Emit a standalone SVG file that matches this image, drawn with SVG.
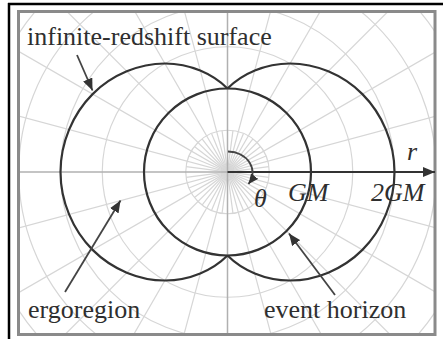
<svg xmlns="http://www.w3.org/2000/svg" width="443" height="339" viewBox="0 0 443 339">
<style>
.grid{stroke:#d6d6d6;stroke-width:1.2;fill:none}
.axis{stroke:#b0b0b0;stroke-width:1.5;fill:none}
.curve{stroke:#333;stroke-width:2.2;fill:none}
.ptr{stroke:#444;stroke-width:1.8;fill:none}
.lbl{font-family:"Liberation Serif","Times New Roman",serif;font-size:26px;fill:#2f2f2f}
.it{font-style:italic}
</style>
<defs>
<clipPath id="inner"><rect x="18.5" y="11.5" width="416.5" height="323"/></clipPath>
<marker id="ah" markerUnits="userSpaceOnUse" markerWidth="14" markerHeight="10" refX="12" refY="5" orient="auto"><path d="M0,0 L12,5 L0,10 Z" fill="#333"/></marker>
<marker id="ahs" markerUnits="userSpaceOnUse" markerWidth="12" markerHeight="9" refX="10" refY="4.5" orient="auto"><path d="M0,0 L10,4.5 L0,9 Z" fill="#333"/></marker>
</defs>
<rect x="0" y="0" width="443" height="339" fill="#fff"/>
<g id="grid" clip-path="url(#inner)">
<g transform="translate(227.5,172)">
<g class="grid">
<circle r="41.75"/><circle r="83.5"/><circle r="125.25"/><circle r="167"/><circle r="208.75"/><circle r="250.5"/><circle r="292.25"/><circle r="334"/>
<line x1="-420" y1="0" x2="420" y2="0" transform="rotate(15)"/>
<line x1="-420" y1="0" x2="420" y2="0" transform="rotate(30)"/>
<line x1="-420" y1="0" x2="420" y2="0" transform="rotate(45)"/>
<line x1="-420" y1="0" x2="420" y2="0" transform="rotate(60)"/>
<line x1="-420" y1="0" x2="420" y2="0" transform="rotate(75)"/>
<line x1="-420" y1="0" x2="420" y2="0" transform="rotate(105)"/>
<line x1="-420" y1="0" x2="420" y2="0" transform="rotate(120)"/>
<line x1="-420" y1="0" x2="420" y2="0" transform="rotate(135)"/>
<line x1="-420" y1="0" x2="420" y2="0" transform="rotate(150)"/>
<line x1="-420" y1="0" x2="420" y2="0" transform="rotate(165)"/>
<line x1="-41.75" y1="0" x2="41.75" y2="0" transform="rotate(7.5)"/>
<line x1="-41.75" y1="0" x2="41.75" y2="0" transform="rotate(22.5)"/>
<line x1="-41.75" y1="0" x2="41.75" y2="0" transform="rotate(37.5)"/>
<line x1="-41.75" y1="0" x2="41.75" y2="0" transform="rotate(52.5)"/>
<line x1="-41.75" y1="0" x2="41.75" y2="0" transform="rotate(67.5)"/>
<line x1="-41.75" y1="0" x2="41.75" y2="0" transform="rotate(82.5)"/>
<line x1="-41.75" y1="0" x2="41.75" y2="0" transform="rotate(97.5)"/>
<line x1="-41.75" y1="0" x2="41.75" y2="0" transform="rotate(112.5)"/>
<line x1="-41.75" y1="0" x2="41.75" y2="0" transform="rotate(127.5)"/>
<line x1="-41.75" y1="0" x2="41.75" y2="0" transform="rotate(142.5)"/>
<line x1="-41.75" y1="0" x2="41.75" y2="0" transform="rotate(157.5)"/>
<line x1="-41.75" y1="0" x2="41.75" y2="0" transform="rotate(172.5)"/>
</g>
<g class="axis">
<line x1="-420" y1="0" x2="0" y2="0"/>
<line x1="0" y1="-200" x2="0" y2="200"/>
</g>
</g>
</g>
<g id="frame">
<line x1="8" y1="4" x2="443" y2="4" stroke="#000" stroke-width="2.5"/>
<line x1="9" y1="3" x2="9" y2="339" stroke="#000" stroke-width="2.5"/>
<rect x="18.5" y="11.5" width="416.5" height="323" fill="none" stroke="#8a8a8a" stroke-width="3"/>
</g>
<g id="event-horizon">
<circle class="curve" cx="227.5" cy="172" r="83.5"/>
</g>
<g id="infinite-redshift-surface">
<path class="curve" d="M227.5,88.5 C242.07,73.93 264.87,63.5 290.1,63.5 C315.33,63.5 342.49,74.19 362.4,94.1 C382.31,114.01 394.5,142.86 394.5,172 C394.5,201.14 382.31,229.99 362.4,249.9 C342.49,269.81 315.33,280.5 290.1,280.5 C264.87,280.5 242.07,270.07 227.5,255.5"/>
<path class="curve" d="M227.5,88.5 C212.93,73.93 190.13,63.5 164.9,63.5 C139.67,63.5 112.51,74.19 92.6,94.1 C72.69,114.01 60.5,142.86 60.5,172 C60.5,201.14 72.69,229.99 92.6,249.9 C112.51,269.81 139.67,280.5 164.9,280.5 C190.13,280.5 212.93,270.07 227.5,255.5"/>
</g>
<g id="r-axis">
<line class="curve" x1="227.5" y1="172" x2="435" y2="172" marker-end="url(#ah)"/>
<text class="lbl it" x="407" y="160">r</text>
<text class="lbl it" x="288" y="201">GM</text>
<text class="lbl it" x="371" y="201">2GM</text>
</g>
<g id="theta">
<path class="ptr" d="M228,151.5 A25,21 0 0 1 248.5,184" marker-end="url(#ahs)" stroke="#333"/>
<text class="lbl it" x="254" y="207">θ</text>
</g>
<g id="connectors">
<line class="ptr" x1="77" y1="55" x2="92.5" y2="90.5" marker-end="url(#ah)"/>
<line class="ptr" x1="65" y1="292" x2="120.5" y2="200.5" marker-end="url(#ah)"/>
<line class="ptr" x1="335" y1="295" x2="289" y2="233.5" marker-end="url(#ah)"/>
</g>
<g id="labels">
<text class="lbl" x="27" y="45">infinite-redshift surface</text>
<text class="lbl" x="28" y="318">ergoregion</text>
<text class="lbl" x="264" y="318">event horizon</text>
</g>
</svg>
